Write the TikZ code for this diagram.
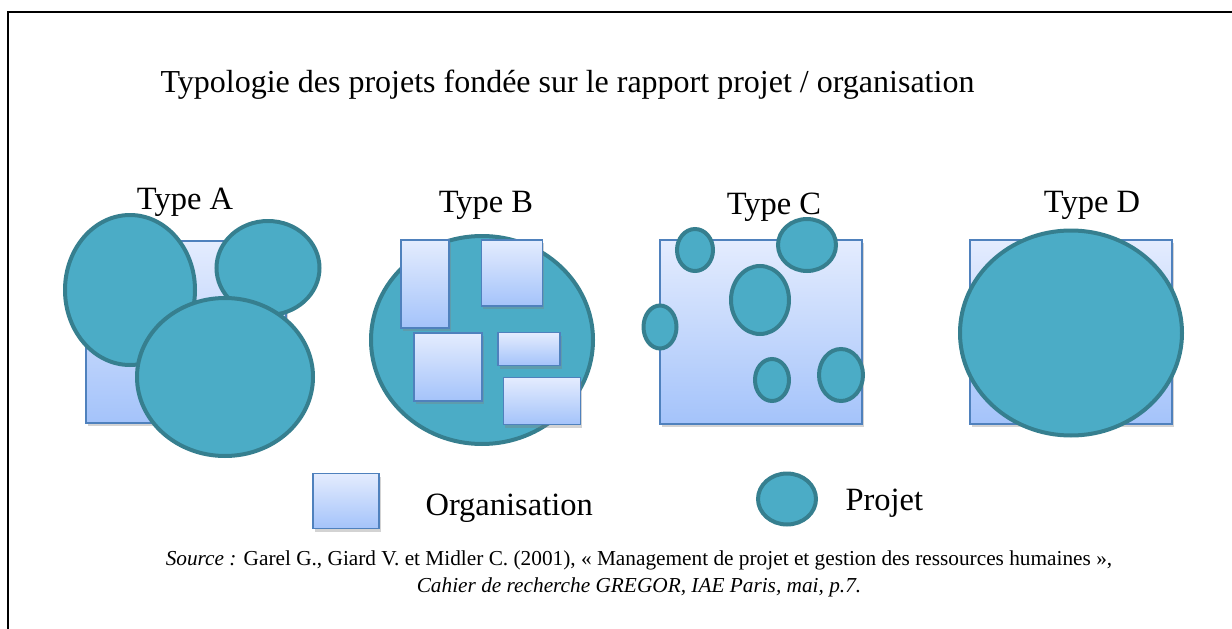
\documentclass[tikz,border=0pt]{standalone}
\usepackage{fontspec}
\setmainfont{Liberation Serif}
\usetikzlibrary{shapes.geometric,shadows}
\definecolor{projfill}{RGB}{75,172,198}
\definecolor{projline}{RGB}{54,127,143}
\definecolor{orgline}{RGB}{79,129,189}
\definecolor{orgtop}{RGB}{228,236,254}
\definecolor{orgbottom}{RGB}{164,195,250}
\newcommand{\orgbox}[5]{\node[organisation, minimum width=#4, minimum height=#5] (#1) at (#2,#3) {}}
\newcommand{\projet}[5]{\node[projet, minimum width=#4, minimum height=#5] (#1) at (#2,#3) {}}

\begin{document}
\begin{tikzpicture}[x=1pt, y=-1pt,
                    organisation/.style={
                        rectangle, inner sep=0pt,
                        draw=orgline, line width=1.5pt,
                        top color=orgtop, bottom color=orgbottom,
                        drop shadow={shadow xshift=1.5pt, shadow yshift=-3pt, opacity=0.35}
                    },
                    projet/.style={
                        ellipse, inner sep=0pt,
                        draw=projline, fill=projfill, line width=4pt
                    },
                    typelabel/.style={anchor=base, font=\fontsize{32.5}{38}\selectfont},
                    legend/.style={anchor=base west, font=\fontsize{32.5}{38}\selectfont}]
    \useasboundingbox (0,0) rectangle (1232,629);
    \draw[line width=1.5pt] (8,629) -- (8,12) -- (1232,12);

    \node[anchor=base west, font=\fontsize{32}{38}\selectfont] (titre) at (157,92)
        {Typologie des projets fondée sur le rapport projet / organisation};

    % type A
    \node[typelabel] (typeA) at (185,209) {Type A};
    \orgbox{orgA}{186}{332}{200}{182};
    \projet{pA1}{130}{290}{130}{150};
    \projet{pA2}{268}{268}{103}{94};
    \projet{pA3}{225}{377}{176}{158};

    % type B
    \node[typelabel] (typeB) at (486,212) {Type B};
    \projet{pB}{482}{340}{222}{208};
    \orgbox{orgB1}{425}{284}{48}{88};
    \orgbox{orgB2}{512}{273}{61}{66};
    \orgbox{orgB3}{448}{367}{68}{68};
    \orgbox{orgB4}{529}{349}{62}{33};
    \orgbox{orgB5}{542}{401}{77}{47};

    % type C
    \node[typelabel] (typeC) at (774,214) {Type C};
    \orgbox{orgC}{761}{332}{202}{184};
    \projet{pC1}{695}{250}{36}{42};
    \projet{pC2}{807}{245}{58}{52};
    \projet{pC3}{760}{300}{58}{68};
    \projet{pC4}{660}{327}{33}{43};
    \projet{pC5}{772}{380}{34}{42};
    \projet{pC6}{841}{375}{44}{52};

    % type D
    \node[typelabel] (typeD) at (1092,212) {Type D};
    \orgbox{orgD}{1071}{332}{202}{184};
    \projet{pD}{1071}{333}{222}{205};

    % legende
    \orgbox{legOrg}{346}{501}{66}{55};
    \node[legend] (txtOrg) at (422,515) {Organisation};
    \projet{legProj}{787}{499}{58}{51};
    \node[legend] (txtProj) at (842,510) {Projet};

    \node[align=center, font=\fontsize{21.3}{27}\selectfont] (source) at (639,574)
        {\textit{Source :} Garel G., Giard V. et Midler C. (2001), « Management de projet et gestion des ressources humaines »,\\
         \textit{Cahier de recherche GREGOR, IAE Paris, mai, p.7.}};
\end{tikzpicture}
\end{document}
